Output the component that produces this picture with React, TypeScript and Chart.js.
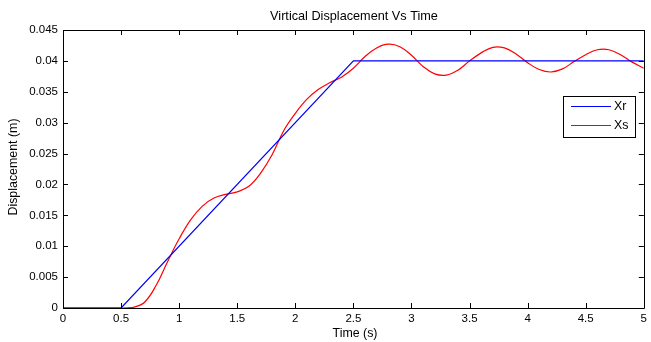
import React, { useEffect, useRef } from "react";
import { Chart, registerables } from "chart.js";

Chart.register(...registerables);

const chartTitle = "Virtical Displacement Vs Time";
const xAxisTitle = "Time (s)";
const yAxisTitle = "Displacement (m)";

const seriesLabels = ["Xr", "Xs"];
const seriesColors = ["#0000ff", "#ff0000"];

const xrTimes = [0, 0.5, 2.5, 5];
const xrValues = [0, 0, 0.04, 0.04];

const xsTimes = [
  0, 0.5, 0.6, 0.7, 0.8, 0.9, 1.0, 1.1, 1.2, 1.3, 1.4, 1.5, 1.6, 1.7, 1.8, 1.9,
  2.0, 2.1, 2.2, 2.3, 2.4, 2.5, 2.6, 2.7, 2.8, 2.9, 3.0, 3.1, 3.2, 3.3, 3.4, 3.5,
  3.6, 3.7, 3.8, 3.9, 4.0, 4.1, 4.2, 4.3, 4.4, 4.5, 4.6, 4.7, 4.8, 4.9, 5.0,
];
const xsValues = [
  0, 0, 0.0001, 0.0009, 0.0036, 0.0075, 0.0112, 0.0143, 0.0165, 0.0178, 0.0184,
  0.0188, 0.0197, 0.0218, 0.0248, 0.0287, 0.0315, 0.0338, 0.0354, 0.0365,
  0.0374, 0.0388, 0.0407, 0.0421, 0.0427, 0.0423, 0.0409, 0.0391, 0.0379,
  0.0377, 0.0385, 0.04, 0.0413, 0.0422, 0.0421, 0.0411, 0.0397, 0.0386,
  0.0382, 0.0387, 0.0399, 0.041, 0.0418, 0.0418, 0.041, 0.0398, 0.0388,
];

const xTicks = [0, 0.5, 1, 1.5, 2, 2.5, 3, 3.5, 4, 4.5, 5];
const yTicks = [0, 0.005, 0.01, 0.015, 0.02, 0.025, 0.03, 0.035, 0.04, 0.045];

const FONT = "'Liberation Sans', Arial, sans-serif";

const framePlugin = {
  id: "matlabFrame",
  afterDraw(chart: any) {
    const { ctx, chartArea } = chart;
    const { left, right, top, bottom } = chartArea;
    const xs = chart.scales.x;
    const ys = chart.scales.y;
    ctx.save();
    ctx.strokeStyle = "#000";
    ctx.lineWidth = 1;
    ctx.beginPath();
    ctx.rect(Math.round(left) + 0.5, Math.round(top) + 0.5, Math.round(right - left), Math.round(bottom - top));
    ctx.stroke();
    const tl = 5;
    ctx.beginPath();
    xTicks.forEach((t) => {
      const px = Math.round(xs.getPixelForValue(t)) + 0.5;
      ctx.moveTo(px, bottom);
      ctx.lineTo(px, bottom - tl);
      ctx.moveTo(px, top);
      ctx.lineTo(px, top + tl);
    });
    yTicks.forEach((t) => {
      const py = Math.round(ys.getPixelForValue(t)) + 0.5;
      ctx.moveTo(left, py);
      ctx.lineTo(left + tl, py);
      ctx.moveTo(right, py);
      ctx.lineTo(right - tl, py);
    });
    ctx.stroke();

    // titles
    ctx.fillStyle = "#000";
    ctx.textAlign = "center";
    ctx.textBaseline = "middle";
    ctx.font = `12.7px ${FONT}`;
    ctx.fillText(chartTitle, 354, 16);
    ctx.font = `12.4px ${FONT}`;
    ctx.fillText(xAxisTitle, 355, 334);
    ctx.save();
    ctx.translate(14, (top + bottom) / 2 - 2);
    ctx.rotate(-Math.PI / 2);
    ctx.fillText(yAxisTitle, 0, 0);
    ctx.restore();

    // legend
    const lx = 563, ly = 96, lw = 72, lh = 41;
    ctx.fillStyle = "#fff";
    ctx.fillRect(lx, ly, lw, lh);
    ctx.strokeStyle = "#000";
    ctx.strokeRect(lx + 0.5, ly + 0.5, lw, lh);
    ctx.font = `12.4px ${FONT}`;
    seriesLabels.forEach((label, i) => {
      const yy = ly + 10 + i * 19 + 0.5;
      ctx.strokeStyle = seriesColors[i];
      ctx.lineWidth = 1;
      ctx.beginPath();
      ctx.moveTo(lx + 8, yy);
      ctx.lineTo(lx + 48, yy);
      ctx.stroke();
      ctx.fillStyle = "#000";
      ctx.textAlign = "left";
      ctx.fillText(label, lx + 51, yy);
    });
    ctx.restore();
  },
};

export default function App() {
  const ref = useRef<HTMLCanvasElement>(null);
  useEffect(() => {
    document.body.style.margin = "0";
    const chart = new Chart(ref.current!, {
      type: "line",
      data: {
        datasets: [
          {
            label: seriesLabels[0],
            data: xrTimes.map((t, i) => ({ x: t, y: xrValues[i] })),
            borderColor: seriesColors[0],
            borderWidth: 1.2,
            pointRadius: 0,
            tension: 0,
          },
          {
            label: seriesLabels[1],
            data: xsTimes.map((t, i) => ({ x: t, y: xsValues[i] })),
            borderColor: seriesColors[1],
            borderWidth: 1.2,
            pointRadius: 0,
            tension: 0.4,
          },
        ],
      },
      options: {
        animation: false,
        responsive: false,
        maintainAspectRatio: false,
        layout: { padding: { left: 0, top: 30, right: 2, bottom: 0 } },
        plugins: { legend: { display: false }, title: { display: false }, tooltip: { enabled: false } },
        scales: {
          x: {
            type: "linear",
            min: 0,
            max: 5,
            afterFit: (s: any) => { s.height = 34; },
            afterBuildTicks: (s: any) => { s.ticks = xTicks.map((v) => ({ value: v })); },
            grid: { display: false, drawTicks: false },
            border: { display: false },
            ticks: {
              color: "#000",
              font: { family: FONT, size: 11.5 },
              padding: 4,
              maxRotation: 0,
              autoSkip: false,
              callback: (v: any) => String(Number(Number(v).toFixed(2))),
            },
          },
          y: {
            type: "linear",
            min: 0,
            max: 0.045,
            afterFit: (s: any) => { s.width = 63; },
            afterBuildTicks: (s: any) => { s.ticks = yTicks.map((v) => ({ value: v })); },
            grid: { display: false, drawTicks: false },
            border: { display: false },
            ticks: {
              color: "#000",
              font: { family: FONT, size: 11.5 },
              padding: 5,
              autoSkip: false,
              callback: (v: any) => String(Number(Number(v).toFixed(3))),
            },
          },
        },
      },
      plugins: [framePlugin],
    } as any);
    return () => chart.destroy();
  }, []);
  return (
    <div style={{ position: "absolute", left: 0, top: 0, width: 651, height: 342, background: "#fff" }}>
      <canvas ref={ref} width={651} height={342} style={{ display: "block" }} />
    </div>
  );
}
